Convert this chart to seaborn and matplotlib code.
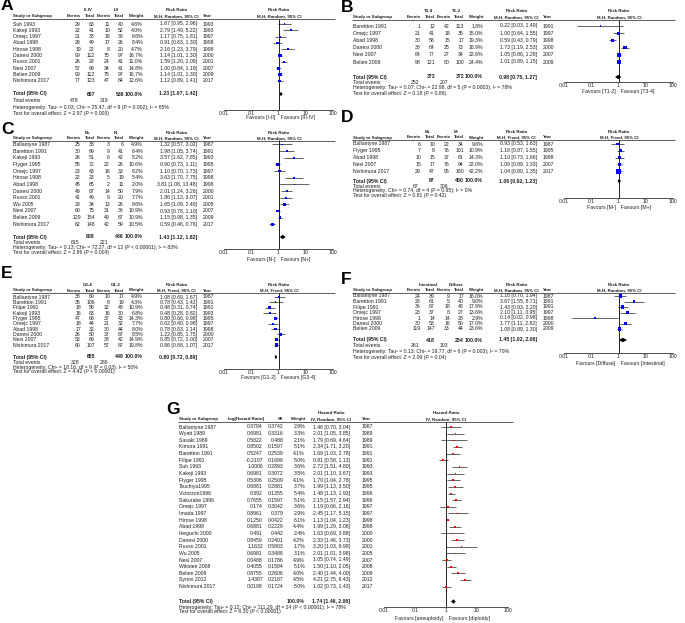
import matplotlib.pyplot as plt
import seaborn as sns

# DATA - PANEL A (III-IV vs I-II)
a_study = ["Suh 1993", "Kakeji 1993", "Omejc 1997", "Abad 1998", "Hirose 1998",
           "Danesi 2000", "Russo 2001", "Nesi 2007", "Belien 2009", "Nishimura 2017"]
a_ev1 = [29, 22, 21, 29, 19, 99, 26, 57, 99, 77]
a_tot1 = [63, 41, 38, 49, 22, 112, 28, 69, 112, 123]
a_ev2 = [11, 10, 18, 17, 8, 75, 24, 34, 75, 47]
a_tot2 = [40, 52, 38, 26, 20, 97, 41, 41, 97, 84]
a_weight = [4.6, 4.0, 6.6, 8.4, 4.7, 16.7, 11.0, 14.8, 16.7, 12.6]
a_rr = [1.67, 2.79, 1.17, 0.91, 2.16, 1.14, 1.59, 1.00, 1.14, 1.12]
a_lo = [0.95, 1.49, 0.75, 0.63, 1.23, 1.01, 1.20, 0.84, 1.01, 0.89]
a_hi = [2.96, 5.22, 1.81, 1.30, 3.79, 1.30, 2.09, 1.19, 1.30, 1.41]
a_year = [1993, 1993, 1997, 1998, 1998, 2000, 2001, 2007, 2009, 2017]
a_sum_n = [657, 536]
a_sum_rr = [1.23, 1.07, 1.42]
a_events = [478, 319]
a_het = "Heterogeneity: Tau\u00b2 = 0.03; Chi\u00b2 = 25.47, df = 9 (P = 0.002); I\u00b2 = 65%"
a_test = "Test for overall effect: Z = 2.97 (P = 0.003)"

# DATA - PANEL B (T3-4 vs T1-2)
b_study = ["Barettton 1991", "Omejc 1997", "Abad 1998", "Danesi 2000", "Nesi 2007", "Belien 2009"]
b_ev1 = [1, 21, 30, 38, 64, 98]
b_tot1 = [12, 41, 58, 64, 77, 121]
b_ev2 = [42, 18, 15, 25, 27, 80]
b_tot2 = [113, 35, 17, 73, 34, 100]
b_weight = [1.8, 15.0, 19.3, 16.9, 22.6, 24.4]
b_rr = [0.22, 1.00, 0.59, 1.73, 1.05, 1.01]
b_lo = [0.03, 0.64, 0.43, 1.19, 0.86, 0.89]
b_hi = [1.49, 1.55, 0.79, 2.53, 1.28, 1.15]
b_year = [1991, 1997, 1998, 2000, 2007, 2009]
b_sum_n = [373, 372]
b_sum_rr = [0.98, 0.75, 1.27]
b_events = [252, 207]
b_het = "Heterogeneity: Tau\u00b2 = 0.07; Chi\u00b2 = 22.98, df = 5 (P = 0.0003); I\u00b2 = 78%"
b_test = "Test for overall effect: Z = 0.18 (P = 0.86)"

# DATA - PANEL C (N+ vs N-)
c_study = ["Ballantyne 1987", "Barettton 1991", "Kakeji 1993", "Flyger 1995", "Omejc 1997",
           "Hirose 1998", "Abad 1998", "Danesi 2000", "Russo 2001", "Wu 2005", "Nesi 2007",
           "Belien 2009", "Nishimura 2017"]
c_ev1 = [25, 30, 26, 55, 23, 22, 45, 49, 41, 28, 60, 129, 62]
c_tot1 = [38, 69, 51, 72, 43, 23, 65, 87, 49, 34, 75, 154, 148]
c_ev2 = [3, 9, 6, 22, 16, 5, 2, 14, 9, 13, 31, 49, 42]
c_tot2 = [6, 41, 42, 26, 33, 19, 11, 50, 20, 26, 36, 67, 59]
c_weight = [4.9, 6.4, 5.2, 10.6, 8.2, 5.4, 2.0, 7.9, 7.7, 8.6, 10.9, 10.9, 10.5]
c_rr = [1.32, 1.98, 3.57, 0.90, 1.10, 3.63, 3.81, 2.01, 1.86, 1.65, 0.93, 1.15, 0.59]
c_lo = [0.57, 1.05, 1.62, 0.73, 0.70, 1.70, 1.08, 1.24, 1.13, 1.09, 0.78, 0.98, 0.46]
c_hi = [3.02, 3.74, 7.85, 1.11, 1.73, 7.75, 13.48, 3.26, 3.07, 2.49, 1.10, 1.35, 0.76]
c_year = [1987, 1991, 1993, 1995, 1997, 1998, 1998, 2000, 2001, 2005, 2007, 2009, 2017]
c_sum_n = [908, 436]
c_sum_rr = [1.43, 1.12, 1.82]
c_events = [615, 221]
c_het = "Heterogeneity: Tau\u00b2 = 0.13; Chi\u00b2 = 72.27, df = 12 (P < 0.00001); I\u00b2 = 83%"
c_test = "Test for overall effect: Z = 2.86 (P = 0.004)"

# DATA - PANEL D (M+ vs M-)
d_study = ["Ballantyne 1987", "Flyger 1995", "Abad 1998", "Nesi 2007", "Nishimura 2017"]
d_ev1 = [6, 7, 10, 15, 29]
d_tot1 = [10, 8, 15, 17, 47]
d_ev2 = [22, 76, 37, 76, 95]
d_tot2 = [34, 101, 61, 94, 160]
d_weight = [9.6, 10.9, 14.3, 22.0, 42.2]
d_rr = [0.93, 1.16, 1.10, 1.09, 1.04]
d_lo = [0.53, 0.87, 0.73, 0.89, 0.80]
d_hi = [1.63, 1.55, 1.66, 1.33, 1.35]
d_year = [1987, 1995, 1998, 2007, 2017]
d_sum_n = [97, 450]
d_sum_rr = [1.06, 0.92, 1.23]
d_events = [67, 306]
d_het = "Heterogeneity: Chi\u00b2 = 0.74, df = 4 (P = 0.95); I\u00b2 = 0%"
d_test = "Test for overall effect: Z = 0.81 (P = 0.42)"

# DATA - PANEL E (G3-4 vs G1-2)
e_study = ["Ballantyne 1987", "Barettton 1991", "Filipe 1991", "Kakeji 1993", "Flyger 1995",
           "Omejc 1997", "Abad 1998", "Danesi 2000", "Nesi 2007", "Nishimura 2017"]
e_ev1 = [38, 35, 18, 16, 47, 18, 17, 26, 53, 60]
e_tot1 = [60, 106, 56, 63, 68, 44, 32, 50, 69, 107]
e_ev2 = [10, 8, 32, 16, 37, 21, 30, 37, 38, 57]
e_tot2 = [17, 19, 48, 30, 43, 32, 44, 87, 42, 87]
e_weight = [4.9, 4.3, 10.9, 6.8, 14.3, 7.7, 8.0, 8.5, 14.9, 19.8]
e_rr = [1.08, 0.78, 0.48, 0.48, 0.80, 0.62, 0.78, 1.22, 0.85, 0.86]
e_lo = [0.69, 0.43, 0.31, 0.28, 0.66, 0.40, 0.53, 0.85, 0.72, 0.68]
e_hi = [1.67, 1.42, 0.74, 0.82, 0.98, 0.98, 1.14, 1.75, 1.00, 1.07]
e_year = [1987, 1991, 1991, 1993, 1995, 1997, 1998, 2000, 2007, 2017]
e_sum_n = [655, 449]
e_sum_rr = [0.80, 0.72, 0.89]
e_events = [328, 286]
e_het = "Heterogeneity: Chi\u00b2 = 18.16, df = 9 (P = 0.03); I\u00b2 = 50%"
e_test = "Test for overall effect: Z = 4.42 (P < 0.00001)"

# DATA - PANEL F (Intestinal vs Diffuse)
f_study = ["Ballantyne 1987", "Barettton 1991", "Filipe 1991", "Omejc 1997", "Hirose 1998",
           "Danesi 2000", "Belien 2009"]
f_ev1 = [24, 28, 36, 23, 1, 30, 119]
f_tot1 = [39, 61, 67, 37, 14, 53, 147]
f_ev2 = [9, 5, 18, 8, 14, 16, 33]
f_tot2 = [17, 40, 48, 27, 28, 50, 44]
f_weight = [16.0, 9.0, 17.9, 13.6, 2.9, 17.0, 23.6]
f_rr = [1.16, 3.67, 1.43, 2.10, 0.14, 1.77, 1.08]
f_lo = [0.70, 1.55, 0.93, 1.11, 0.02, 1.11, 0.89]
f_hi = [1.94, 8.71, 2.20, 3.95, 0.98, 2.82, 1.30]
f_year = [1987, 1991, 1991, 1997, 1998, 2000, 2009]
f_sum_n = [418, 254]
f_sum_rr = [1.45, 1.02, 2.06]
f_events = [261, 103]
f_het = "Heterogeneity: Tau\u00b2 = 0.13; Chi\u00b2 = 19.77, df = 6 (P = 0.003); I\u00b2 = 70%"
f_test = "Test for overall effect: Z = 2.09 (P = 0.04)"

# DATA - PANEL G (hazard ratios)
g_study = ["Ballantyne 1987", "Wyatt 1989", "Sasaki 1989", "Kimura 1991", "Barettton 1991",
           "Filipe 1991", "Suh 1993", "Kakeji 1993", "Flyger 1995", "Tsuchiya1995",
           "Victorzon1996", "Sakurabe 1996", "Omejc 1997", "Imada 1997", "Hirose 1998",
           "Abad 1998", "Ikeguchi 2000", "Danesi 2000", "Russo 2001", "Wu 2005",
           "Nesi 2007", "Wiksten 2008", "Belien 2009", "Syrios 2012", "Nishimura 2017"]
g_loghr = ["0.3784", "0.6981", "0.5822", "0.8502", "0.5247", "-0.2107", "1.0006", "0.6981",
           "0.5306", "0.6881", "0.392", "0.7655", "0.174", "0.8961", "0.1250", "0.6881",
           "0.491", "0.8459", "1.1632", "0.6981", "0.0488", "0.4055", "0.8755", "1.4387", "0.0198"]
g_se = ["0.3742", "0.3316", "0.488", "0.1597", "0.2539", "0.1699", "0.2893", "0.3072",
        "0.2509", "0.2881", "0.1355", "0.1597", "0.3042", "0.379", "0.0422", "0.2229",
        "0.442", "0.2401", "0.5803", "0.3488", "0.1786", "0.1584", "0.2606", "0.2187", "0.1724"]
g_weight = [2.9, 3.3, 2.1, 5.1, 4.1, 5.0, 3.6, 3.5, 4.1, 3.7, 5.4, 5.1, 3.6, 2.9, 6.1,
            4.4, 2.4, 4.2, 1.7, 3.1, 4.9, 5.1, 4.0, 4.5, 5.0]
g_hr = [1.46, 2.01, 1.79, 2.34, 1.69, 0.81, 2.72, 2.01, 1.70, 1.99, 1.48, 2.15, 1.19,
        2.45, 1.13, 1.99, 1.63, 2.33, 3.20, 2.01, 1.05, 1.50, 2.40, 4.21, 1.02]
g_lo = [0.70, 1.05, 0.69, 1.71, 1.03, 0.58, 1.51, 1.10, 1.04, 1.13, 1.13, 1.57, 0.66,
        1.17, 1.04, 1.29, 0.69, 1.46, 1.03, 1.01, 0.74, 1.10, 1.44, 2.75, 0.73]
g_hi = [3.04, 3.85, 4.64, 3.20, 2.78, 1.13, 4.80, 3.67, 2.78, 3.50, 1.93, 2.94, 2.16,
        5.15, 1.23, 3.08, 3.88, 3.73, 9.98, 3.98, 1.49, 2.05, 4.00, 6.43, 1.43]
g_year = [1987, 1989, 1989, 1991, 1991, 1991, 1993, 1993, 1995, 1995, 1996, 1996, 1997,
          1997, 1998, 1998, 2000, 2000, 2001, 2005, 2007, 2008, 2009, 2012, 2017]
g_sum_hr = [1.74, 1.46, 2.06]
g_het = "Heterogeneity: Tau\u00b2 = 0.12; Chi\u00b2 = 111.29, df = 24 (P < 0.00001); I\u00b2 = 78%"
g_test = "Test for overall effect: Z = 6.30 (P < 0.00001)"


# STYLE

sns.set_style("white")
plt.rcParams['font.family'] = ['Liberation Sans', 'DejaVu Sans']

FS = 3.7      # table body
FH = 3.2      # column headers
TXT = '#1e1e1e'
LINE = '#4a4a4a'
W, H = 685, 623

fig = plt.figure(figsize=(6.85, 6.23), dpi=100)

# one axes in pixel units for all the table text
tx = fig.add_axes([0, 0, 1, 1])
tx.set_xlim(0, W)
tx.set_ylim(H, 0)
tx.axis('off')


def put(x, y, s, ha='left', bold=False, size=FS):
    tx.text(x, y, s, ha=ha, va='center', fontsize=size, color=TXT,
            fontweight='bold' if bold else 'normal')


def head(x, y, s, ha='left'):
    put(x, y, s, ha=ha, bold=True, size=FH)


def ci_text(r, l, h):
    return f"{r:.2f} [{l:.2f}, {h:.2f}]"


def forest(px0, px1, top, bottom, rows, est, lo, hi, weight, color,
           summary, sum_y, axis_y, fav_y, favours):
    ax = fig.add_axes([px0 / W, 1 - bottom / H, (px1 - px0) / W, (bottom - top) / H])
    ax.patch.set_alpha(0)
    ax.set_xscale('log')

    ax.hlines(rows, lo, hi, color=LINE, lw=0.6)
    sns.scatterplot(x=est, y=rows, size=weight, sizes=(0.4, 14), size_norm=(0, 45),
                    marker='s', color=color, linewidth=0, legend=False, ax=ax, zorder=3)

    # summary diamond
    r, l, h = summary
    ax.fill([l, r, h, r], [sum_y, sum_y - 2.2, sum_y, sum_y + 2.2], color='black', lw=0)

    ax.vlines(1, top, axis_y, color='black', lw=0.6)

    ax.set_xlim(0.01, 100)
    ax.set_ylim(bottom, top)
    for s in ['top', 'left', 'right']:
        ax.spines[s].set_visible(False)
    ax.spines['bottom'].set_position(('data', axis_y))
    ax.spines['bottom'].set_linewidth(0.6)
    ax.spines['bottom'].set_color('#333333')
    ax.set_yticks([])
    ax.set_xticks([0.01, 0.1, 1, 10, 100])
    ax.set_xticklabels(['0.01', '0.1', '1', '10', '100'])
    ax.minorticks_off()
    ax.tick_params(axis='x', direction='in', length=2.5, width=0.6, labelsize=FS,
                   pad=0.8, colors='#333333', labelcolor=TXT)
    ax.set_xlabel('')
    ax.set_ylabel('')

    ax.text(1, fav_y, favours[0] + '  ', ha='right', va='center', fontsize=FS, color=TXT)
    ax.text(1, fav_y, '  ' + favours[1], ha='left', va='center', fontsize=FS, color=TXT)


def rr_panel(g, letter, groups, method, favours, study, ev1, tot1, ev2, tot2,
             weight, rr, lo, hi, year, sum_n, sum_rr, events, het, test, color='#0000ff'):
    x0 = g['x0']
    tx.text(x0 + 1, g['label'], letter, ha='left', va='center', fontsize=12.5,
            fontweight='bold', color='black')

    # header
    head(x0 + 88, g['grp'], groups[0], ha='center')
    head(x0 + 116, g['grp'], groups[1], ha='center')
    head(x0 + 177, g['grp'], "Risk Ratio", ha='center')
    head(x0 + 279, g['grp'], "Risk Ratio", ha='center')
    head(x0 + 13, g['hdr'], "Study or Subgroup")
    head(x0 + 81, g['hdr'], "Events", ha='right')
    head(x0 + 95, g['hdr'], "Total", ha='right')
    head(x0 + 111, g['hdr'], "Events", ha='right')
    head(x0 + 124, g['hdr'], "Total", ha='right')
    head(x0 + 143, g['hdr'], "Weight", ha='right')
    head(x0 + 176, g['hdr'], method, ha='center')
    head(x0 + 203, g['hdr'], "Year")
    head(x0 + 279, g['hdr'], method, ha='center')
    tx.hlines(g['rule'], x0 + 12, x0 + 335, color='#444444', lw=0.6)

    rows = [g['row0'] + i * g['step'] for i in range(len(study))]
    for i, y in enumerate(rows):
        put(x0 + 13, y, study[i])
        put(x0 + 81, y, str(ev1[i]), ha='right')
        put(x0 + 95, y, str(tot1[i]), ha='right')
        put(x0 + 110, y, str(ev2[i]), ha='right')
        put(x0 + 124, y, str(tot2[i]), ha='right')
        put(x0 + 143, y, f"{weight[i]:.1f}%", ha='right')
        put(x0 + 197, y, ci_text(rr[i], lo[i], hi[i]), ha='right')
        put(x0 + 203, y, str(year[i]))

    # totals
    put(x0 + 13, g['total'], "Total (95% CI)", bold=True)
    put(x0 + 95, g['total'], str(sum_n[0]), ha='right', bold=True)
    put(x0 + 124, g['total'], str(sum_n[1]), ha='right', bold=True)
    put(x0 + 143, g['total'], "100.0%", ha='right', bold=True)
    put(x0 + 197, g['total'], ci_text(*sum_rr), ha='right', bold=True)
    put(x0 + 13, g['events'], "Total events")
    put(x0 + 79, g['events'], str(events[0]), ha='right')
    put(x0 + 108, g['events'], str(events[1]), ha='right')
    put(x0 + 13, g['het'], het)
    put(x0 + 13, g['test'], test)

    forest(x0 + 224, x0 + 333, g['rule'], g['fav'] + 4, rows, rr, lo, hi, weight, color,
           sum_rr, g['total'], g['axis'], g['fav'], favours)


geo_a = dict(x0=0, label=6, grp=10, hdr=16, rule=18.5, row0=24, step=6.33,
             total=94, events=100, het=107, test=113, axis=110, fav=118)
geo_b = dict(x0=340, label=7, grp=11, hdr=17, rule=20, row0=26, step=7.2,
             total=77, events=82, het=87.5, test=93, axis=82, fav=91)
geo_c = dict(x0=0, label=129, grp=132.5, hdr=138, rule=140.5, row0=144.5, step=6.65,
             total=237, events=242, het=247.5, test=252.5, axis=249, fav=260)
geo_d = dict(x0=340, label=117, grp=132, hdr=137.5, rule=140, row0=144, step=6.8,
             total=181, events=186, het=190.5, test=195, axis=198, fav=207)
geo_e = dict(x0=0, label=274, grp=285, hdr=290.5, rule=293, row0=297, step=5.35,
             total=357, events=362, het=367, test=372, axis=369, fav=377)
geo_f = dict(x0=340, label=279, grp=285, hdr=290, rule=292.5, row0=296, step=5.5,
             total=340, events=345.5, het=351, test=357, axis=353, fav=363)

rr_panel(geo_a, "A", ["III-IV", "I-II"], "M-H, Random, 95% CI", ["Favours [I-II]", "Favours [III-IV]"],
         a_study, a_ev1, a_tot1, a_ev2, a_tot2, a_weight, a_rr, a_lo, a_hi, a_year,
         a_sum_n, a_sum_rr, a_events, a_het, a_test)
rr_panel(geo_b, "B", ["T3-4", "T1-2"], "M-H, Random, 95% CI", ["Favours [T1-2]", "Favours [T3-4]"],
         b_study, b_ev1, b_tot1, b_ev2, b_tot2, b_weight, b_rr, b_lo, b_hi, b_year,
         b_sum_n, b_sum_rr, b_events, b_het, b_test)
rr_panel(geo_c, "C", ["N+", "N-"], "M-H, Random, 95% CI", ["Favours [N-]", "Favours [N+]"],
         c_study, c_ev1, c_tot1, c_ev2, c_tot2, c_weight, c_rr, c_lo, c_hi, c_year,
         c_sum_n, c_sum_rr, c_events, c_het, c_test)
rr_panel(geo_d, "D", ["M+", "M-"], "M-H, Fixed, 95% CI", ["Favours [M-]", "Favours [M+]"],
         d_study, d_ev1, d_tot1, d_ev2, d_tot2, d_weight, d_rr, d_lo, d_hi, d_year,
         d_sum_n, d_sum_rr, d_events, d_het, d_test)
rr_panel(geo_e, "E", ["G3-4", "G1-2"], "M-H, Fixed, 95% CI", ["Favours [G1-2]", "Favours [G3-4]"],
         e_study, e_ev1, e_tot1, e_ev2, e_tot2, e_weight, e_rr, e_lo, e_hi, e_year,
         e_sum_n, e_sum_rr, e_events, e_het, e_test)
rr_panel(geo_f, "F", ["Intestinal", "Diffuse"], "M-H, Random, 95% CI",
         ["Favours [Diffuse]", "Favours [Intestinal]"],
         f_study, f_ev1, f_tot1, f_ev2, f_tot2, f_weight, f_rr, f_lo, f_hi, f_year,
         f_sum_n, f_sum_rr, f_events, f_het, f_test)


# PANEL G

gx = 179
g_top, g_rule, g_row0, g_step = 413, 421.5, 427, 6.65
g_total, g_hety, g_testy, g_axis, g_fav = 601.5, 607, 612, 607, 618.5

tx.text(166, 409, "G", ha='left', va='center', fontsize=12.5, fontweight='bold', color='black')
head(331, g_top, "Hazard Ratio", ha='center')
head(446, g_top, "Hazard Ratio", ha='center')
head(gx, 419, "Study or Subgroup")
head(264, 419, "log[Hazard Ratio]", ha='right')
head(284, 419, "SE", ha='right')
head(305, 419, "Weight", ha='right')
head(331, 419, "IV, Random, 95% CI", ha='center')
head(362, 419, "Year")
head(446, 419, "IV, Random, 95% CI", ha='center')
tx.hlines(g_rule, gx - 1, 513, color='#444444', lw=0.6)

g_rows = [g_row0 + i * g_step for i in range(len(g_study))]
for i, y in enumerate(g_rows):
    put(gx, y, g_study[i])
    put(263, y, g_loghr[i], ha='right')
    put(284, y, g_se[i], ha='right')
    put(305, y, f"{g_weight[i]:.1f}%", ha='right')
    put(350, y, ci_text(g_hr[i], g_lo[i], g_hi[i]), ha='right')
    put(362, y, str(g_year[i]))

put(gx, g_total, "Total (95% CI)", bold=True)
put(305, g_total, "100.0%", ha='right', bold=True)
put(350, g_total, ci_text(*g_sum_hr), ha='right', bold=True)
put(gx, g_hety, g_het)
put(gx, g_testy, g_test)

forest(384, 508, g_rule, g_fav + 4, g_rows, g_hr, g_lo, g_hi, g_weight, '#ff0000',
       g_sum_hr, g_total, g_axis, g_fav, ["Favours [aneuploidy]", "Favours [diploidy]"])

plt.savefig("out.png", dpi=100)
plt.close()
